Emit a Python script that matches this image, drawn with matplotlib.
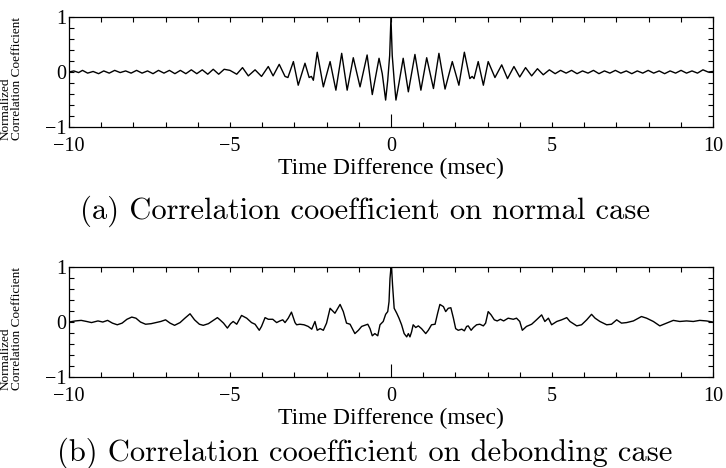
import numpy as np
import matplotlib
matplotlib.use('Agg')
import matplotlib.pyplot as plt
from matplotlib.ticker import FuncFormatter

#(a) normal case: time difference (msec) and normalized correlation coefficient
t_a = [-10.0, -9.85, -9.7, -9.58, -9.42, -9.25, -9.08, -8.92, -8.75, -8.58,
       -8.41, -8.24, -8.07, -7.9, -7.73, -7.56, -7.39, -7.22, -7.05, -6.88,
       -6.71, -6.54, -6.37, -6.2, -6.03, -5.86, -5.69, -5.52, -5.35, -5.18,
       -5.0, -4.79, -4.61, -4.43, -4.22, -4.02, -3.81, -3.66, -3.47, -3.29,
       -3.2, -3.03, -2.88, -2.67, -2.54, -2.47, -2.41, -2.29, -2.10, -1.89,
       -1.71, -1.53, -1.36, -1.17, -0.96, -0.74, -0.58, -0.37, -0.27, -0.165,
       -0.1, -0.04, 0.0, 0.04, 0.1, 0.155, 0.25, 0.38, 0.54, 0.745,
       0.93, 1.11, 1.32, 1.49, 1.68, 1.905, 2.11, 2.28, 2.45, 2.52,
       2.58, 2.71, 2.87, 3.02, 3.23, 3.44, 3.62, 3.82, 4.0, 4.18,
       4.37, 4.55, 4.73, 4.92, 5.1, 5.27, 5.44, 5.61, 5.78, 5.95,
       6.12, 6.29, 6.46, 6.63, 6.8, 6.97, 7.14, 7.31, 7.48, 7.65,
       7.82, 7.99, 8.16, 8.33, 8.5, 8.67, 8.84, 9.01, 9.18, 9.35,
       9.52, 9.69, 9.85, 10.0]
r_a = [0.0, 0.02, -0.01, 0.03, -0.02, 0.01, -0.03, 0.02, -0.02, 0.03,
       -0.01, 0.02, -0.02, 0.03, -0.02, 0.02, -0.03, 0.03, -0.02, 0.03,
       -0.03, 0.03, -0.03, 0.04, -0.03, 0.04, -0.04, 0.05, -0.04, 0.05,
       0.03, -0.04, 0.08, -0.07, 0.04, -0.08, 0.10, -0.07, 0.14, -0.08,
       -0.10, 0.19, -0.24, 0.16, -0.10, -0.08, -0.15, 0.36, -0.27, 0.19,
       -0.33, 0.34, -0.33, 0.26, -0.27, 0.31, -0.41, 0.25, -0.03, -0.51,
       -0.15, 0.3, 0.99, 0.3, -0.15, -0.51, -0.2, 0.25, -0.36, 0.32,
       -0.33, 0.26, -0.30, 0.34, -0.31, 0.19, -0.24, 0.36, -0.12, -0.08,
       -0.12, 0.19, -0.24, 0.19, -0.10, 0.13, -0.12, 0.10, -0.09, 0.08,
       -0.07, 0.06, -0.05, 0.04, -0.03, 0.03, -0.02, 0.03, -0.03, 0.02,
       -0.02, 0.03, -0.03, 0.02, -0.02, 0.03, -0.02, 0.02, -0.03, 0.02,
       -0.02, 0.03, -0.02, 0.02, -0.03, 0.02, -0.02, 0.03, -0.02, 0.02,
       -0.02, 0.04, 0.0, 0.01]

#(b) debonding case
t_b = [-10.0, -9.8, -9.62, -9.45, -9.3, -9.1, -8.95, -8.8, -8.65, -8.5,
       -8.35, -8.2, -8.05, -7.92, -7.78, -7.62, -7.45, -7.3, -7.15, -7.0,
       -6.86, -6.72, -6.55, -6.4, -6.24, -6.1, -5.95, -5.83, -5.67, -5.52,
       -5.39, -5.31, -5.2, -5.08, -4.98, -4.9, -4.79, -4.64, -4.48, -4.33,
       -4.22, -4.09, -4.02, -3.91, -3.81, -3.67, -3.55, -3.45, -3.36, -3.29,
       -3.19, -3.09, -2.98, -2.93, -2.83, -2.70, -2.57, -2.46, -2.36, -2.29,
       -2.20, -2.10, -2.00, -1.89, -1.74, -1.58, -1.48, -1.38, -1.27, -1.12,
       -1.01, -0.91, -0.81, -0.72, -0.65, -0.58, -0.50, -0.41, -0.34, -0.24,
       -0.165, -0.10, -0.06, -0.03, 0.0, 0.02, 0.05, 0.10, 0.18, 0.25,
       0.33, 0.41, 0.49, 0.54, 0.59, 0.64, 0.69, 0.77, 0.85, 0.95,
       1.08, 1.16, 1.26, 1.37, 1.45, 1.52, 1.63, 1.70, 1.78, 1.86,
       1.94, 2.01, 2.09, 2.20, 2.28, 2.35, 2.40, 2.49, 2.56, 2.66,
       2.76, 2.87, 2.94, 3.02, 3.11, 3.21, 3.30, 3.40, 3.50, 3.64,
       3.80, 3.90, 4.00, 4.08, 4.21, 4.37, 4.52, 4.68, 4.78, 4.89,
       4.99, 5.15, 5.30, 5.46, 5.56, 5.77, 5.92, 6.08, 6.23, 6.34,
       6.49, 6.70, 6.85, 7.01, 7.16, 7.32, 7.53, 7.78, 7.94, 8.15,
       8.35, 8.56, 8.77, 8.97, 9.18, 9.39, 9.59, 9.80, 10.0]
r_b = [0.0, 0.02, 0.03, 0.01, -0.01, 0.02, 0.0, 0.03, -0.02, -0.05,
       -0.02, 0.05, 0.09, 0.07, 0.0, -0.04, -0.03, -0.01, 0.01, 0.04,
       -0.02, -0.06, -0.01, 0.07, 0.15, 0.04, -0.04, -0.06, -0.03, 0.03,
       0.08, 0.04, -0.02, -0.11, -0.03, 0.01, -0.04, 0.12, 0.07, -0.01,
       -0.04, -0.15, -0.08, 0.08, 0.05, 0.05, -0.01, 0.02, 0.04, -0.01,
       0.07, 0.18, -0.01, -0.05, -0.04, -0.05, -0.08, -0.13, 0.01, -0.15,
       -0.12, -0.15, -0.02, 0.25, 0.16, 0.32, 0.19, -0.02, -0.04, -0.21,
       -0.15, -0.08, -0.06, -0.04, -0.12, -0.25, -0.21, -0.25, -0.05, 0.01,
       0.14, 0.19, 0.37, 0.79, 0.99, 0.98, 0.67, 0.25, 0.16, 0.07,
       -0.05, -0.21, -0.27, -0.21, -0.27, -0.18, -0.05, -0.10, -0.07, -0.12,
       -0.21, -0.15, -0.05, -0.04, 0.16, 0.32, 0.28, 0.19, 0.25, 0.26,
       0.07, -0.12, -0.15, -0.13, -0.16, -0.08, -0.07, -0.15, -0.10, -0.05,
       -0.04, -0.07, -0.02, 0.19, 0.13, 0.04, 0.02, 0.05, 0.02, 0.07,
       0.05, 0.07, 0.01, -0.15, -0.08, -0.04, 0.04, 0.13, 0.01, 0.07,
       -0.05, 0.01, 0.04, 0.08, 0.01, -0.07, -0.05, 0.04, 0.14, 0.07,
       0.01, -0.05, -0.04, 0.04, -0.02, -0.01, 0.02, 0.10, 0.07, 0.01,
       -0.07, -0.02, 0.03, 0.01, 0.02, 0.01, 0.03, 0.02, 0.0]

captions = ['(a) Correlation cooefficient on normal case',
            '(b) Correlation cooefficient on debonding case']
xlabel = 'Time Difference (msec)'
ylabel = 'Normalized\nCorrelation Coefficient'

plt.rcParams['font.family'] = ['Liberation Serif', 'DejaVu Serif']
plt.rcParams['axes.unicode_minus'] = True

fig = plt.figure(figsize=(7.26, 4.68), dpi=100)

def fmt_x(v, pos):
    if round(v) % 5 == 0:
        return str(int(round(v))).replace('-', '\u2212')
    return ''

def fmt_y(v, pos):
    if abs(v - round(v)) < 1e-6:
        return str(int(round(v))).replace('-', '\u2212')
    return ''

def draw_panel(rect, t, r, caption, cap_y, ylab_y):
    ax = fig.add_axes(rect)
    ax.plot(t, r, color='black', lw=1.0, solid_joinstyle='round')
    ax.set_xlim(-10, 10)
    ax.set_ylim(-1, 1)
    ax.set_xticks(np.arange(-10, 11, 1))
    ax.set_yticks(np.arange(-1, 1.01, 0.2))
    ax.xaxis.set_major_formatter(FuncFormatter(fmt_x))
    ax.yaxis.set_major_formatter(FuncFormatter(fmt_y))
    ax.tick_params(direction='in', top=True, right=True, length=3.6, width=0.8,
                   labelsize=14.5, pad=2)
    ax.tick_params(axis='x', pad=7.5)
    for s in ax.spines.values():
        s.set_linewidth(0.9)
    #longer tick at zero
    ax.xaxis.get_major_ticks()[10].tick1line.set_markersize(9.5)
    ax.set_xlabel(xlabel, fontsize=17, labelpad=1)
    fig.text(0.016, ylab_y, ylabel, rotation=90, fontsize=9.5,
             ha='center', va='bottom', multialignment='left', linespacing=0.95)
    fig.text(0.503, cap_y, caption, fontsize=22, family='cmr10',
             ha='center', va='center')
    return ax

ax1 = draw_panel([0.095, 0.7286, 0.887, 0.235], t_a, r_a, captions[0], 0.549, 0.70)
ax2 = draw_panel([0.095, 0.1944, 0.887, 0.235], t_b, r_b, captions[1], 0.032, 0.166)

fig.savefig('out.png', dpi=100)
